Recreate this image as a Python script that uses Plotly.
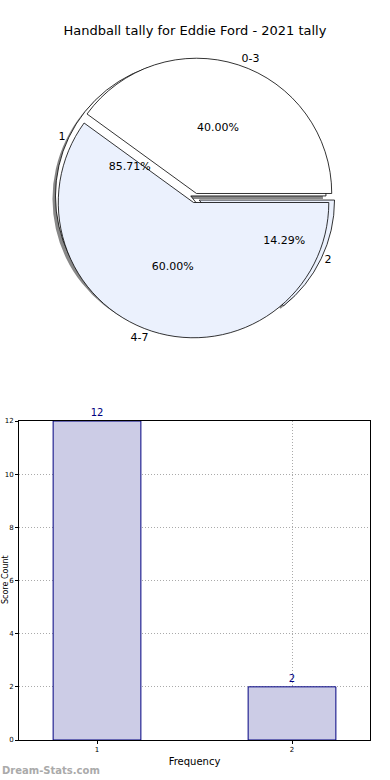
import plotly.graph_objects as go

title = "Handball tally for Eddie Ford - 2021 tally"
outer_labels = ["0-3", "4-7"]
outer_values = [2, 3]
inner_labels = ["1", "2"]
inner_values = [12, 2]
bar_x = [1, 2]
bar_y = [12, 2]
y_ticks = [0, 2, 4, 6, 8, 10, 12]

W, H = 390, 780
FONT = "DejaVu Sans"

def dom(cx, cy, r):
    return dict(x=[(cx - r) / W, (cx + r) / W], y=[1 - (cy + r) / H, 1 - (cy - r) / H])

def start_rot(values):
    # first slice starts at 3 o'clock and runs counterclockwise (plotly semantics)
    return 90 - 360 * values[0] / sum(values)

R = 140
cx, cy = 195, 198
pull = [0.035, 0.035]
fills = ["#ffffff", "#ebf1fd"]
clear = ["rgba(0,0,0,0)"] * 2
tf = dict(family=FONT, size=11, color="black")

fig = go.Figure()

def add_pie(labels, values, center, colors, line, textinfo_kw):
    fig.add_trace(go.Pie(labels=labels, values=values, domain=dom(center[0], center[1], R),
                         pull=pull, sort=False, direction="counterclockwise",
                         rotation=start_rot(values), hoverinfo="skip", showlegend=False,
                         marker=dict(colors=colors, line=line), **textinfo_kw))

no_text = dict(textinfo="none")
pct_text = dict(texttemplate="%{percent:.2%}", textposition="inside",
                insidetextorientation="horizontal", textfont=tf)
lab_text = dict(texttemplate="%{label}", textposition="outside", textfont=tf)

# shadow, inner pie, outer pie
add_pie(inner_labels, inner_values, (cx - 3, cy + 3), ["#888888"] * 2, dict(width=0), no_text)
add_pie(inner_labels, inner_values, (cx, cy), fills, dict(color="black", width=0.8), no_text)
add_pie(outer_labels, outer_values, (cx, cy), fills, dict(color="black", width=0.8), no_text)
# text layers on top
add_pie(inner_labels, inner_values, (cx, cy), clear, dict(width=0), pct_text)
add_pie(inner_labels, inner_values, (cx, cy), clear, dict(width=0), lab_text)
add_pie(outer_labels, outer_values, (cx, cy), clear, dict(width=0), pct_text)
add_pie(outer_labels, outer_values, (cx, cy), clear, dict(width=0), lab_text)

# bar chart
fig.add_trace(go.Bar(x=bar_x, y=bar_y, width=0.45, text=[str(v) for v in bar_y],
                     textposition="outside", cliponaxis=False,
                     textfont=dict(family=FONT, size=10, color="#000080"),
                     marker=dict(color="#ccccE6", line=dict(color="#000080", width=1)),
                     xaxis="x", yaxis="y", showlegend=False, hoverinfo="skip"))

axis_common = dict(showline=True, linecolor="black", linewidth=1, mirror=True,
                   showgrid=True, gridcolor="#aaaaaa", griddash="1px,2px", gridwidth=1,
                   zeroline=False, ticks="outside", ticklen=3, tickcolor="black",
                   automargin=False,
                   tickfont=dict(family=FONT, size=7, color="black"))

fig.update_layout(
    width=W, height=H, margin=dict(l=0, r=0, t=0, b=0, autoexpand=False),
    paper_bgcolor="white", plot_bgcolor="white",
    font=dict(family=FONT, color="black"),
    title=dict(text=title, x=0.5, xanchor="center", xref="paper", yref="container",
               y=1 - 30 / H, yanchor="middle", automargin=False,
               font=dict(family=FONT, size=13, color="black")),
    xaxis=dict(domain=[19 / W, 370 / W], range=[0.6, 2.4], tickvals=bar_x,
               title=dict(text="Frequency", font=dict(family=FONT, size=10), standoff=4),
               anchor="y", **axis_common),
    yaxis=dict(domain=[1 - 740 / H, 1 - 421 / H], range=[0, 12], tickvals=y_ticks,
               anchor="x", **axis_common),
    annotations=[
        dict(text="Score Count", x=5 / W, y=1 - 580 / H, xref="paper", yref="paper",
             textangle=-90, showarrow=False, xanchor="center", yanchor="middle",
             font=dict(family=FONT, size=8, color="black")),
        dict(text="<b>Dream-Stats.com</b>", x=0, y=1 - 770 / H, xref="paper", yref="paper",
             showarrow=False, xanchor="left", yanchor="middle",
             font=dict(family=FONT, size=10, color="#aaaaaa")),
    ],
)

fig.write_html("out.html", config={"displayModeBar": False},
               post_script="document.body.style.margin='0';document.body.style.overflow='hidden';")
